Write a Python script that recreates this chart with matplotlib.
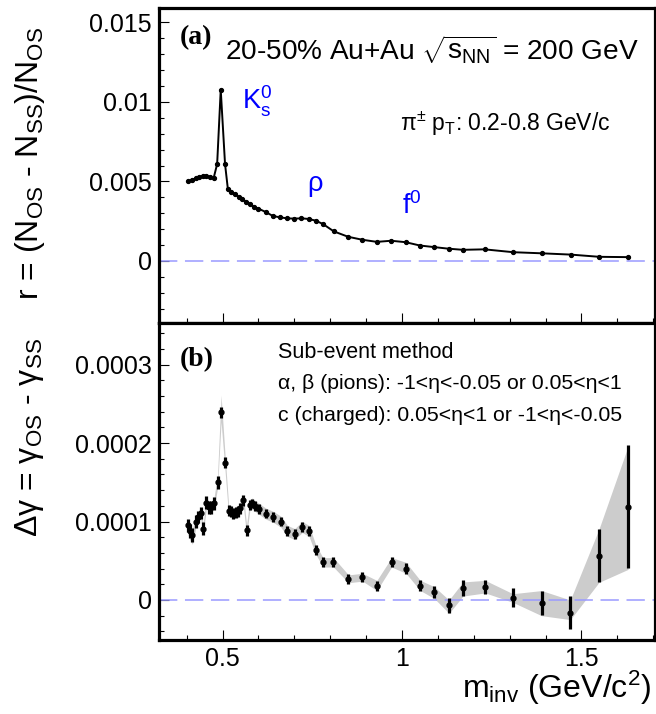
import matplotlib
matplotlib.use('Agg')
import matplotlib.pyplot as plt
import numpy as np
from matplotlib.ticker import MultipleLocator, FixedLocator, FixedFormatter

plt.rcParams['font.family'] = ['Liberation Sans', 'DejaVu Sans']
plt.rcParams['mathtext.fontset'] = 'custom'
plt.rcParams['mathtext.rm'] = 'Liberation Sans'
plt.rcParams['mathtext.it'] = 'Liberation Sans:italic'
plt.rcParams['mathtext.bf'] = 'Liberation Sans:bold'

# (a) charge-dependent pair ratio r vs invariant mass
m_r = [0.405, 0.415, 0.425, 0.435, 0.445, 0.455, 0.465, 0.475, 0.485, 0.495,
       0.507, 0.515, 0.525, 0.535, 0.545, 0.555, 0.566, 0.577, 0.588, 0.600,
       0.62, 0.64, 0.66, 0.68, 0.70, 0.72, 0.74, 0.76, 0.78,
       0.81, 0.85, 0.89, 0.93, 0.97, 1.01, 1.05, 1.09, 1.13, 1.17, 1.23,
       1.31, 1.39, 1.47, 1.55, 1.63]
r_vals = [0.00500, 0.00511, 0.00519, 0.00528, 0.00534, 0.00532, 0.00528, 0.00519, 0.00609, 0.01076,
          0.00609, 0.00450, 0.00433, 0.00419, 0.00404, 0.00387, 0.00373, 0.00356, 0.00341, 0.00329,
          0.00308, 0.00283, 0.00274, 0.00268, 0.00266, 0.00268, 0.00264, 0.00253, 0.00232,
          0.00186, 0.00152, 0.00133, 0.00120, 0.00127, 0.00118, 0.00097, 0.00087, 0.00077, 0.00070, 0.00073,
          0.00055, 0.00048, 0.00040, 0.00026, 0.00024]

# (b) delta gamma vs invariant mass (units of 1e-4)
m_g = [0.404, 0.410, 0.416, 0.426, 0.432, 0.439, 0.446, 0.455, 0.463, 0.469,
       0.476, 0.486, 0.496, 0.507, 0.517, 0.524, 0.530, 0.537, 0.544, 0.548,
       0.558, 0.567, 0.576, 0.583, 0.590, 0.602, 0.621, 0.641, 0.662, 0.681,
       0.701, 0.722, 0.741, 0.760, 0.780, 0.809, 0.851, 0.890, 0.930, 0.971,
       1.011, 1.051, 1.090, 1.131, 1.170, 1.232, 1.309, 1.389, 1.469, 1.549, 1.630]
dg_vals = [0.95, 0.88, 0.83, 1.00, 1.06, 1.11, 0.91, 1.24, 1.18, 1.18,
           1.23, 1.50, 2.39, 1.75, 1.14, 1.13, 1.10, 1.12, 1.13, 1.17,
           1.27, 0.89, 1.21, 1.23, 1.20, 1.16, 1.10, 1.06, 1.00, 0.88,
           0.84, 0.93, 0.88, 0.64, 0.48, 0.48, 0.27, 0.29, 0.18, 0.48,
           0.40, 0.18, 0.10, -0.07, 0.15, 0.16, 0.03, -0.04, -0.16, 0.565, 1.19]
dg_stat = [0.085, 0.085, 0.085, 0.08, 0.08, 0.08, 0.08, 0.08, 0.08, 0.08,
           0.08, 0.08, 0.065, 0.07, 0.07, 0.07, 0.07, 0.07, 0.07, 0.07,
           0.07, 0.07, 0.06, 0.06, 0.06, 0.06, 0.06, 0.06, 0.06, 0.06,
           0.06, 0.06, 0.06, 0.065, 0.065, 0.065, 0.065, 0.065, 0.065, 0.065,
           0.065, 0.07, 0.08, 0.09, 0.10, 0.09, 0.12, 0.155, 0.21, 0.34, 0.78]
dg_sys_up = [0.08, 0.08, 0.08, 0.07, 0.07, 0.07, 0.07, 0.07, 0.07, 0.07,
             0.07, 0.08, 0.22, 0.10, 0.07, 0.07, 0.07, 0.07, 0.07, 0.07,
             0.07, 0.07, 0.07, 0.07, 0.07, 0.07, 0.07, 0.07, 0.07, 0.07,
             0.07, 0.07, 0.07, 0.06, 0.06, 0.06, 0.05, 0.05, 0.07, 0.06,
             0.08, 0.07, 0.07, 0.07, 0.08, 0.09, 0.05, 0.16, 0.16, 0.34, 0.77]
dg_sys_dn = [0.12, 0.12, 0.12, 0.07, 0.07, 0.07, 0.07, 0.07, 0.07, 0.07,
             0.07, 0.08, 0.12, 0.10, 0.07, 0.07, 0.07, 0.07, 0.07, 0.07,
             0.07, 0.07, 0.07, 0.07, 0.07, 0.07, 0.07, 0.07, 0.07, 0.07,
             0.07, 0.07, 0.07, 0.06, 0.06, 0.06, 0.05, 0.05, 0.06, 0.06,
             0.06, 0.06, 0.08, 0.10, 0.10, 0.07, 0.06, 0.16, 0.09, 0.34, 0.80]

x_ticks = [0.5, 1.0, 1.5]
x_ticklabels = ['0.5', '1', '1.5']
r_ticks = [0, 0.005, 0.01, 0.015]
r_ticklabels = ['0', '0.005', '0.01', '0.015']
g_ticks = [0, 0.0001, 0.0002, 0.0003]
g_ticklabels = ['0', '0.0001', '0.0002', '0.0003']

W, H = 656, 714
fig = plt.figure(figsize=(W / 100, H / 100), dpi=100)
L, R = 159, 655
ax1 = fig.add_axes([L / W, 1 - 323 / H, (R - L) / W, 315 / H])
ax2 = fig.add_axes([L / W, 1 - 640 / H, (R - L) / W, 317 / H])

blue = '#0000ff'
zero_col = '#9a9aff'

for ax in (ax1, ax2):
    ax.set_xlim(0.323, 1.705)
    for sp in ax.spines.values():
        sp.set_linewidth(2.3)
    ax.xaxis.set_major_locator(FixedLocator(x_ticks))
    ax.xaxis.set_minor_locator(MultipleLocator(0.1))
    ax.tick_params(which='both', direction='in', top=False, right=False, width=0.8)
    ax.tick_params(which='major', length=7, labelsize=18, pad=5)
    ax.tick_params(which='minor', length=3.5)
    ax.axhline(0, color=zero_col, lw=1.1, ls=(0, (12, 5)), zorder=2)

# panel (a)
ax1.set_ylim(-0.0039, 0.0159)
ax1.yaxis.set_major_locator(FixedLocator(r_ticks))
ax1.yaxis.set_major_formatter(FixedFormatter(r_ticklabels))
ax1.yaxis.set_minor_locator(MultipleLocator(0.001))
ax1.set_xticklabels([])
ax1.plot(m_r, r_vals, color='black', lw=1.4, marker='o', ms=2.8, zorder=3)

ax1.text(0.042, 0.905, '(a)', transform=ax1.transAxes, fontsize=20, fontweight='bold',
         family='Liberation Serif', va='center', ha='left')
ax1.text(0.133, 0.868, r'20-50% Au+Au $\sqrt{\mathrm{s}_{\mathrm{NN}}}$ = 200 GeV',
         transform=ax1.transAxes, fontsize=20.2, va='center', ha='left')
ax1.text(0.168, 0.705, r'K$_{\mathrm{s}}^{0}$', transform=ax1.transAxes, fontsize=19.5,
         color=blue, va='center', ha='left')
ax1.text(0.485, 0.632, r'π$^{\pm}$ p$_{\mathrm{T}}$: 0.2-0.8 GeV/c', transform=ax1.transAxes,
         fontsize=16.5, va='center', ha='left')
ax1.text(0.298, 0.44, 'ρ', transform=ax1.transAxes, fontsize=19.5, color=blue,
         va='center', ha='left')
ax1.text(0.49, 0.37, r'f$^{0}$', transform=ax1.transAxes, fontsize=19.5, color=blue,
         va='center', ha='left')

# panel (b)
mg = np.array(m_g)
dg = np.array(dg_vals) * 1e-4
band_lo = dg - np.array(dg_sys_dn) * 1e-4
band_hi = dg + np.array(dg_sys_up) * 1e-4
ax2.set_ylim(-0.000051, 0.000353)
ax2.yaxis.set_major_locator(FixedLocator(g_ticks))
ax2.yaxis.set_major_formatter(FixedFormatter(g_ticklabels))
ax2.yaxis.set_minor_locator(MultipleLocator(0.00002))
ax2.set_xticklabels(x_ticklabels)
ax2.fill_between(mg, band_lo, band_hi, color='#cccccc', lw=0, zorder=1)
ax2.errorbar(mg, dg, yerr=np.array(dg_stat) * 1e-4, fmt='o', color='black', ms=3.5,
             elinewidth=2.3, capsize=0, zorder=4)

ax2.text(0.042, 0.883, '(b)', transform=ax2.transAxes, fontsize=20, fontweight='bold',
         family='Liberation Serif', va='center', ha='left')
ax2.text(0.24, 0.908, 'Sub-event method', transform=ax2.transAxes, fontsize=15.5,
         va='center', ha='left')
ax2.text(0.24, 0.81, 'α, β (pions): -1<η<-0.05 or 0.05<η<1', transform=ax2.transAxes,
         fontsize=15.3, va='center', ha='left')
ax2.text(0.24, 0.707, 'c (charged): 0.05<η<1 or -1<η<-0.05', transform=ax2.transAxes,
         fontsize=15.3, va='center', ha='left')

# axis titles
fig.text(30 / W, 1 - 27 / H, r'r = (N$_{\mathrm{OS}}$ - N$_{\mathrm{SS}}$)/N$_{\mathrm{OS}}$',
         rotation=90, fontsize=23, ha='center', va='top')
fig.text(30 / W, 1 - 338 / H, r'Δγ = γ$_{\mathrm{OS}}$ - γ$_{\mathrm{SS}}$',
         rotation=90, fontsize=23, ha='center', va='top')
fig.text(651 / W, 1 - 688 / H, r'm$_{\mathrm{inv}}$ (GeV/c$^{2}$)', fontsize=23,
         ha='right', va='center')

fig.savefig('out.png', dpi=100)
